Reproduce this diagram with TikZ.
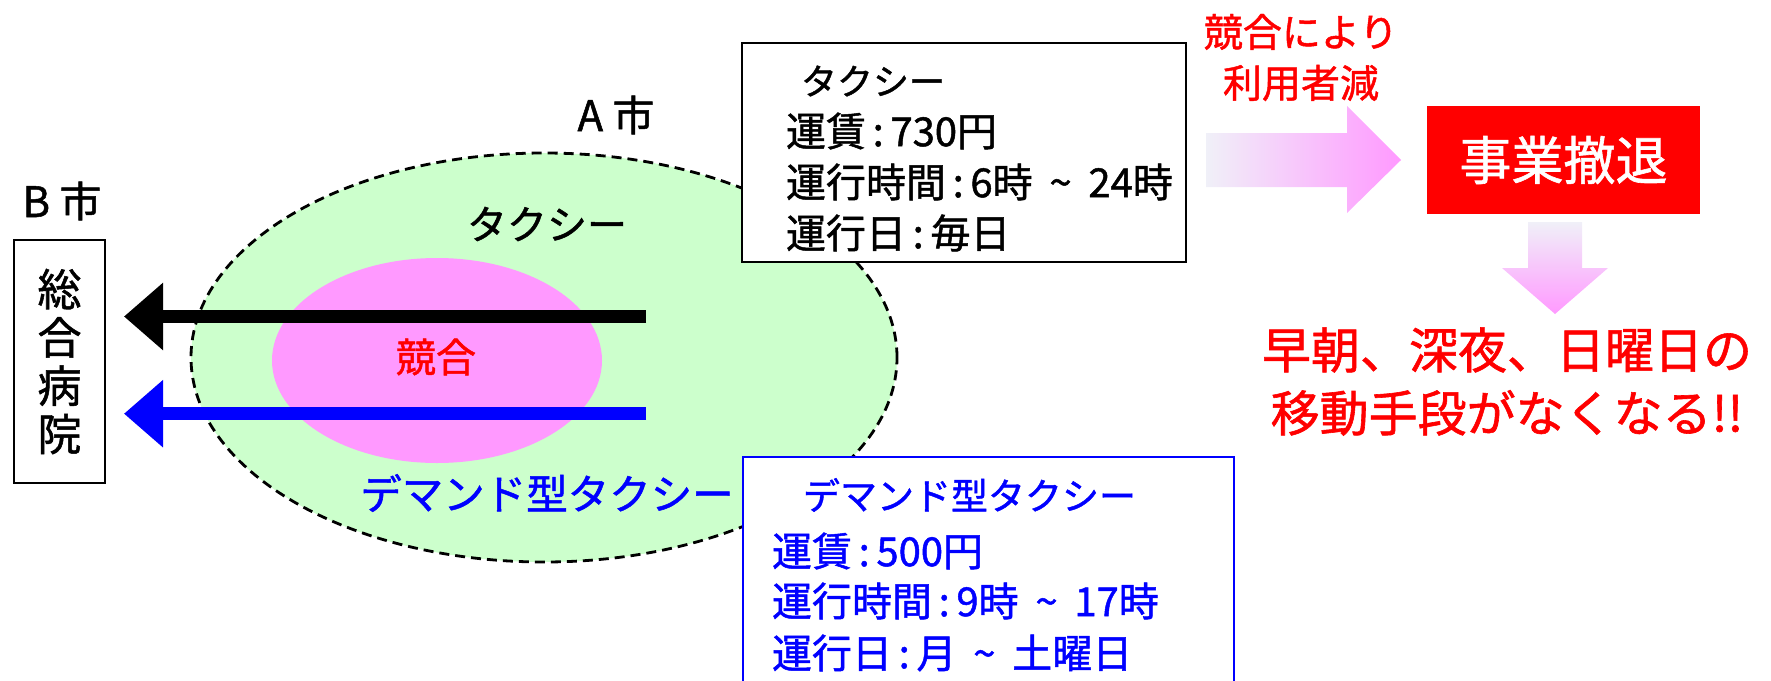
\documentclass[tikz,border=0pt]{standalone}
\usepackage{fontspec}
\setmainfont{Noto Sans CJK JP}[FakeBold=1.2]
\usetikzlibrary{shapes.geometric,arrows.meta}
\definecolor{areagreen}{HTML}{CCFFCC}
\definecolor{compink}{HTML}{FF99FF}
\definecolor{palestart}{HTML}{F0F0F8}
\definecolor{jred}{HTML}{FF0000}
\definecolor{jblue}{HTML}{0000FF}
\newcommand{\jfs}[2]{\fontsize{#1}{#2}\selectfont}
\newcommand{\csep}{\,:\,}
\newcommand{\tld}{\hspace{0.42em}\textasciitilde\hspace{0.42em}}
\tikzset{
  lbl/.style={inner sep=0pt, outer sep=0pt},
  infoline/.style={lbl, anchor=west, font=\jfs{40}{48}},
  boxframe/.style={draw, line width=2pt, fill=white, inner sep=0pt},
  bigarrow/.style={line width=13pt, -{Triangle[length=39pt,width=65pt]}, shorten >=18pt},
}
\begin{document}
\begin{tikzpicture}[x=1pt,y=-1pt]
\useasboundingbox (0,0) rectangle (1771,680);
\clip (0,0) rectangle (1771,680);
% city A area and overlap
\node[ellipse, draw, dash pattern=on 10pt off 6pt, line width=2.8pt, fill=areagreen,
      minimum width=706pt, minimum height=409pt, inner sep=0pt] (areaA) at (544,357.5) {};
\node[ellipse, fill=compink, minimum width=330pt, minimum height=205pt, inner sep=0pt] (overlap) at (437,360.5) {};
\node[lbl, text=jred, font=\jfs{40}{40}] (kyogo) at (436,357) {競合};
\node[lbl, font=\jfs{42}{42}] (cityA) at (616,115) {A 市};
\node[lbl, font=\jfs{42}{42}] (cityB) at (62,201) {B 市};
\node[draw, line width=2pt, fill=white, minimum width=91pt, minimum height=243pt, inner sep=0pt,
      align=center, font=\jfs{44}{48.3}] (hosp) at (59.5,361.5) {総\\合\\病\\院};
% arrows to hospital
\coordinate (taxiTail) at (646,316.5);
\coordinate (demTail) at (646,413.7);
\draw[bigarrow, black] (taxiTail) -- (taxiTail -| hosp.east);
\draw[bigarrow, jblue] (demTail) -- (demTail -| hosp.east);
\node[lbl, font=\jfs{40}{40}] (taxiLbl) at (547,224) {タクシー};
\node[lbl, text=jblue, font=\jfs{41.5}{41.5}] (demLbl) at (547,493) {デマンド型タクシー};
% taxi info box
\node[boxframe, minimum width=444pt, minimum height=219pt] (taxibox) at (964,152.5) {};
\node[lbl, anchor=west, font=\jfs{36}{36}] (tTitle) at (801,81) {タクシー};
\node[infoline] (tFare) at (786,131) {運賃\csep 730円};
\node[infoline] (tHours) at (786,182) {運行時間\csep 6時\tld 24時};
\node[infoline] (tDays) at (786,233) {運行日\csep 毎日};
% demand taxi info box
\node[boxframe, draw=jblue, minimum width=491pt, minimum height=260pt] (dembox) at (988.5,587) {};
\node[lbl, anchor=west, text=jblue, font=\jfs{37}{37}] (dTitle) at (803,495) {デマンド型タクシー};
\node[infoline, text=jblue] (dFare) at (772,551) {運賃\csep 500円};
\node[infoline, text=jblue] (dHours) at (772,601) {運行時間\csep 9時\tld 17時};
\node[infoline, text=jblue] (dDays) at (772,653) {運行日\csep 月\tld 土曜日};
% right side
\node[lbl, text=jred, align=center, font=\jfs{39}{51}] (reason) at (1301,57.5) {競合により\\利用者減};
\node[fill=jred, minimum width=273pt, minimum height=108pt, inner sep=0pt, text=white,
      font=\jfs{52}{52}] (withdraw) at (1563.5,160) {事業撤退};
\node[lbl, text=jred, align=center, font=\jfs{49}{63}] (result) at (1507,381.5) {早朝、深夜、日曜日の\\移動手段がなくなる!!};
\shade[left color=palestart, middle color=compink, right color=compink]
  (1206,133) -- (1347,133) -- (1347,106) -- (1401,160) -- (1347,213) -- (1347,187) -- (1206,187) -- cycle;
\shade[top color=palestart, middle color=compink!85!palestart, bottom color=compink]
  (1528,222) -- (1582,222) -- (1582,268) -- (1608,268) -- (1555,314) -- (1502,268) -- (1528,268) -- cycle;
\end{tikzpicture}
\end{document}
